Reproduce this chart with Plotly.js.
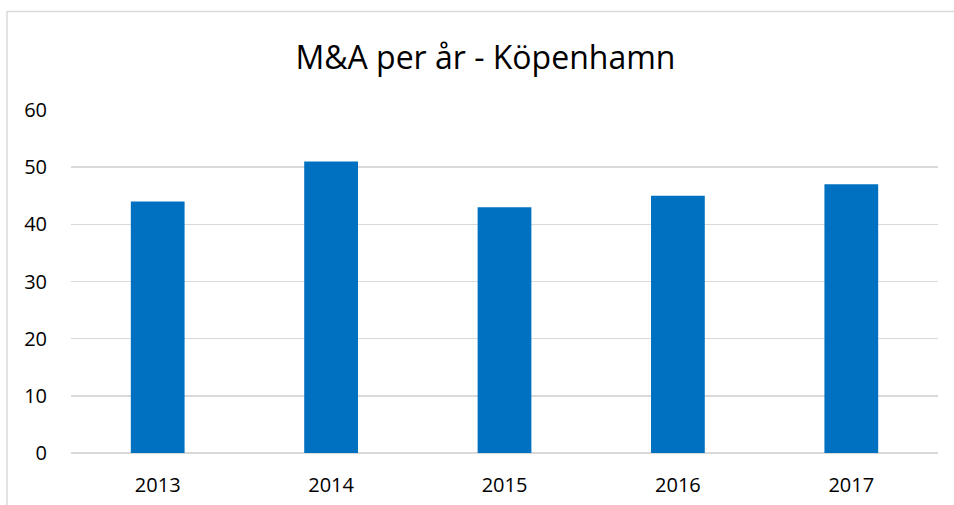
<!DOCTYPE html>
<html>
<head>
<meta charset="utf-8">
<script src="https://cdn.plot.ly/plotly-3.0.1.min.js"></script>
<style>html,body{margin:0;padding:0;background:#fff;}#chart{width:954px;height:505px;}</style>
</head>
<body>
<div id="chart"></div>
<script>
const years = ['2013', '2014', '2015', '2016', '2017'];
const deals = [44, 51, 43, 45, 47];
const yTicks = [0, 10, 20, 30, 40, 50, 60];
const chartTitle = 'M&A per år - Köpenhamn';

const trace = {
  type: 'bar',
  x: years,
  y: deals,
  marker: {color: '#0070c0'},
  hoverinfo: 'x+y'
};

const layout = {
  width: 954,
  height: 505,
  margin: {l: 71, r: 16, t: 110, b: 52, pad: 0},
  paper_bgcolor: '#ffffff',
  plot_bgcolor: '#ffffff',
  showlegend: false,
  bargap: 0.69,
  font: {family: 'Open Sans, sans-serif', color: '#000000'},
  title: {
    text: chartTitle,
    font: {family: 'Open Sans, sans-serif', size: 32, color: '#000000'},
    x: 0.478, xref: 'paper', xanchor: 'center',
    y: 0.885, yref: 'container', yanchor: 'middle'
  },
  xaxis: {
    type: 'category',
    showgrid: false,
    showline: false,
    zeroline: false,
    ticks: '',
    tickfont: {size: 20, family: 'Open Sans, sans-serif', color: '#000'},
    ticklabelstandoff: 18
  },
  yaxis: {
    range: [0, 60],
    tickvals: yTicks,
    showgrid: true,
    gridcolor: '#d9d9d9',
    gridwidth: 1.5,
    zeroline: true,
    zerolinecolor: '#d9d9d9',
    zerolinewidth: 1.5,
    showline: false,
    ticks: '',
    tickfont: {size: 20, family: 'Open Sans, sans-serif', color: '#000'},
    ticklabelstandoff: 23
  },
  shapes: [{
    type: 'rect', xref: 'paper', yref: 'paper',
    x0: -0.0738, x1: 2, y0: -1, y1: 1.287,
    line: {color: '#d9d9d9', width: 1.5},
    fillcolor: 'rgba(0,0,0,0)', layer: 'below'
  }]
};

Plotly.newPlot('chart', [trace], layout, {displayModeBar: false, staticPlot: true});
</script>
</body>
</html>
